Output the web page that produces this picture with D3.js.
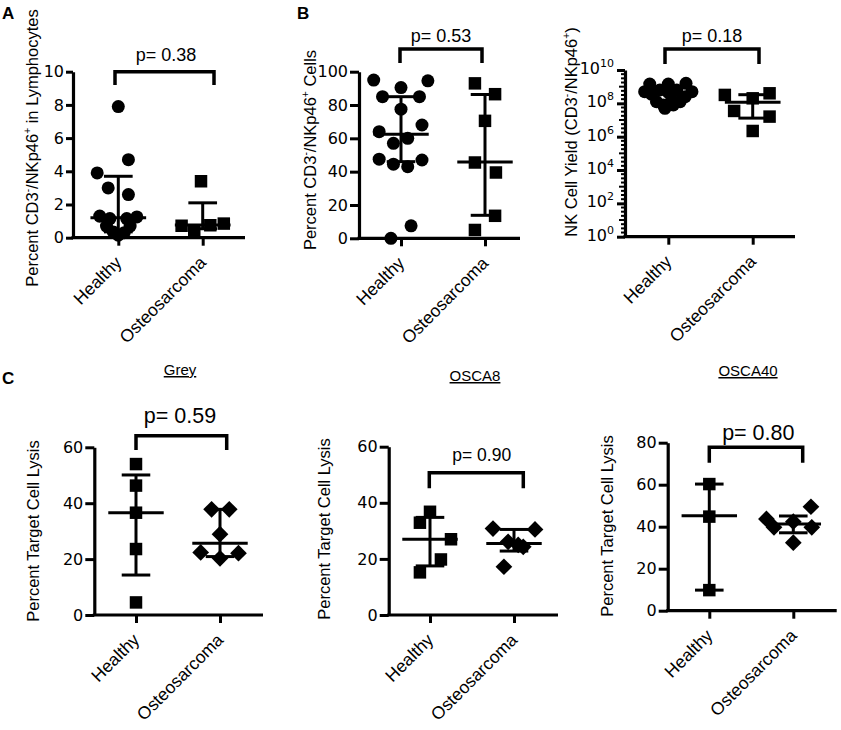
<!DOCTYPE html>
<html>
<head>
<meta charset="utf-8">
<script src="https://cdn.jsdelivr.net/npm/d3@7"></script>
<style>
  body { margin: 0; background: #fff; }
  text { font-family: "Liberation Sans", Arial, sans-serif; fill: #000; }
</style>
</head>
<body>
<svg id="fig" width="841" height="730"></svg>
<script>
// Script to draw the NK cell comparison figure (panels A, B, C)

const groups = ['Healthy', 'Osteosarcoma'];

// A - percent CD3-/NKp46+ in lymphocytes
const aHealthy = [7.9, 4.7, 3.9, 3.0, 2.6, 1.3, 1.25, 1.15, 1.15, 0.7, 0.7, 0.35, 0.3, 0.15];
const aHealthyDx = [0, 0.12, -0.25, -0.12, 0.12, -0.22, 0.22, -0.1, 0.1, -0.14, 0.14, -0.06, 0.07, 0];
const aOsteo = [3.4, 0.85, 0.75, 0.72, 0.35];
const aOsteoDx = [-0.02, 0.25, 0.09, -0.25, -0.1];
const aHealthyIqr = [0.35, 1.2, 3.7];   // q1, median, q3
const aOsteoIqr = [0.54, 0.76, 2.1];
const aTicks = [0, 2, 4, 6, 8, 10];

// B left - percent CD3-/NKp46+ cells
const bHealthy = [95, 94.5, 90.5, 85, 85, 77.5, 68, 64, 60, 57, 47.5, 47, 44.5, 43, 7.5, 0];
const bHealthyDx = [-0.325, 0.32, 0, -0.22, 0.22, 0, 0.25, -0.26, 0.08, -0.09, -0.26, 0.25, -0.09, 0.08, 0.12, -0.12];
const bOsteo = [93, 86.5, 70.5, 45.5, 39.5, 13.5, 5];
const bOsteoDx = [-0.12, 0.12, 0, -0.12, 0.13, 0.12, -0.12];
const bHealthyIqr = [46, 62.4, 85];
const bOsteoIqr = [13.8, 45.8, 86.3];
const bTicks = [0, 20, 40, 60, 80, 100];

// B right - NK cell yield (log)
const yHealthy = [1.45e9, 1.45e9, 1.58e9, 5e8, 5e8, 6.3e8, 6.3e8, 3.5e8, 2.5e8, 4.5e8, 1.26e8, 1.26e8, 1.6e8, 8e7, 8e7, 5e7];
const yHealthyDx = [-0.22, 0, 0.21, -0.28, 0.28, -0.1, 0.1, -0.2, 0.2, 0, -0.14, 0.14, 0.04, -0.06, 0.06, -0.04];
const yOsteo = [4e8, 3.2e8, 2e8, 3.5e7, 1.6e7, 2.2e6];
const yOsteoDx = [0.2, -0.33, 0, -0.22, 0.2, 0];
const yHealthyIqr = [1.3e8, 4e8, 6.3e8];
const yOsteoIqr = [1.3e7, 1.15e8, 3.3e8];
const yTicks = [1, 1e2, 1e4, 1e6, 1e8, 1e10];

// C - percent target cell lysis
const greyHealthy = [54, 46.3, 36.6, 23.6, 4.5];
const greyHealthyDx = [0, 0, 0, 0, 0];
const greyOsteo = [37.8, 37.8, 28.9, 22.4, 22.1, 20.3];
const greyOsteoDx = [-0.1, 0.11, 0, -0.23, 0.22, 0];
const greyHealthyIqr = [14.3, 36.6, 50.1];
const greyOsteoIqr = [20.9, 25.7, 37.8];

const osca8Healthy = [36.8, 32.9, 27, 19.8, 15.2];
const osca8HealthyDx = [0, -0.12, 0.25, 0.13, -0.12];
const osca8Osteo = [30.8, 30.5, 26.1, 25, 24.3, 17.2];
const osca8OsteoDx = [-0.25, 0.25, -0.07, 0.05, 0.11, -0.12];
const osca8HealthyIqr = [17.5, 27, 34.8];
const osca8OsteoIqr = [22.8, 25.5, 30.5];

const osca40Healthy = [60.3, 44.8, 9.8];
const osca40HealthyDx = [0, 0, 0];
const osca40Osteo = [49.5, 43.7, 42.4, 39.7, 39.7, 32.4];
const osca40OsteoDx = [0.21, -0.32, 0, -0.23, 0.22, 0];
const osca40HealthyIqr = [9.8, 45.2, 60.3];
const osca40OsteoIqr = [37.1, 41.3, 45.1];

const lysisTicks60 = [0, 20, 40, 60];
const lysisTicks80 = [0, 20, 40, 60, 80];

const pValues = ['p= 0.38', 'p= 0.53', 'p= 0.18', 'p= 0.59', 'p= 0.90', 'p= 0.80'];
const cellLines = ['Grey', 'OSCA8', 'OSCA40'];

// titles as [text, isSuperscript] pieces
const titleLymph = [['Percent CD3', 0], ['-', 1], ['/NKp46', 0], ['+', 1], [' in Lymphocytes', 0]];
const titleCells = [['Percent CD3', 0], ['-', 1], ['/NKp46', 0], ['+', 1], [' Cells', 0]];
const titleYield = [['NK Cell Yield (CD3', 0], ['-', 1], ['/NKp46', 0], ['+', 1], [')', 0]];
const titleLysis = [['Percent Target Cell Lysis', 0]];

const tickFont = '"DejaVu Sans", Verdana, sans-serif';
const svg = d3.select('#fig');

function richText(t, parts, size) {
    let supSize = size * 0.62, lift = size * 0.42;
    let up = false;
    parts.forEach(p => {
        let ts = t.append('tspan').text(p[0]);
        if (p[1]) {
            ts.attr('font-size', supSize).attr('dy', up ? 0 : -lift);
            up = true;
        } else {
            ts.attr('font-size', size).attr('dy', up ? lift : 0);
            up = false;
        }
    });
}

function panel(o) {
    let g = svg.append('g');

    let x = d3.scalePoint().domain(groups).range(o.cx);
    let step = o.cx[1] - o.cx[0];
    let y = (o.log ? d3.scaleLog() : d3.scaleLinear())
        .domain(o.dom)
        .range([o.yb, o.yt]);

    // y axis
    let yAxis = d3.axisLeft(y)
        .tickValues(o.ticks)
        .tickSizeOuter(0)
        .tickSizeInner(o.tickLen)
        .tickPadding(2);
    if (o.log) yAxis.tickFormat('');

    let ya = g.append('g')
        .attr('transform', `translate(${o.ax},0)`)
        .call(yAxis);
    ya.select('.domain').attr('stroke-width', 3.2).attr('stroke', '#000');
    ya.selectAll('.tick line').attr('stroke-width', 3).attr('stroke', '#000');
    ya.selectAll('.tick text')
        .style('font-size', '16px')
        .style('font-family', tickFont);

    if (o.log) {
        // minor ticks every quarter decade
        let minor = d3.range(0, 41).map(k => Math.pow(10, k / 4))
            .filter(v => !o.ticks.includes(v));
        g.append('g').selectAll('line')
            .data(minor)
            .join('line')
            .attr('x1', o.ax)
            .attr('x2', d => o.ax - (Math.abs(Math.log10(d) % 2 - 1) < 1e-9 ? 6 : 4))
            .attr('y1', d => y(d))
            .attr('y2', d => y(d))
            .attr('stroke', '#000')
            .attr('stroke-width', 2);

        ya.selectAll('.tick').each(function(d) {
            let t = d3.select(this).append('text')
                .attr('x', -o.tickLen - 3)
                .attr('dy', '0.36em')
                .attr('text-anchor', 'end')
                .style('font-family', tickFont);
            t.append('tspan').attr('font-size', 16).text('10');
            t.append('tspan').attr('font-size', 11).attr('dy', -7)
                .text(Math.round(Math.log10(d)));
        });
    }

    // x axis
    g.append('line')
        .attr('x1', o.ax - 1.5).attr('x2', o.xe)
        .attr('y1', o.yb).attr('y2', o.yb)
        .attr('stroke', '#000').attr('stroke-width', 3.2);

    let xa = g.append('g')
        .attr('transform', `translate(0,${o.yb})`)
        .call(d3.axisBottom(x).tickSizeOuter(0).tickSizeInner(8));
    xa.select('.domain').remove();
    xa.selectAll('.tick line').attr('stroke-width', 3).attr('stroke', '#000');
    xa.selectAll('.tick text')
        .attr('x', 0).attr('y', 0).attr('dy', 0)
        .attr('font-size', 17.5)
        .attr('text-anchor', 'end')
        .attr('transform', 'translate(4,26) rotate(-45)');

    // points
    let sets = [
        {grp: groups[0], vals: o.h, dx: o.hdx, shape: o.hShape},
        {grp: groups[1], vals: o.s, dx: o.sdx, shape: o.sShape}
    ];
    sets.forEach(s => {
        let sym = s.shape == 'circle' ? d3.symbol(d3.symbolCircle, 133)
                : d3.symbol(d3.symbolSquare, s.shape == 'diamond' ? 140 : 156);
        g.append('g').selectAll('path')
            .data(s.vals)
            .join('path')
            .attr('d', sym)
            .attr('transform', (d, i) => `translate(${x(s.grp) + s.dx[i] * step},${y(d)})` +
                (s.shape == 'diamond' ? ' rotate(45)' : ''))
            .attr('fill', '#000');
    });

    // median + interquartile range
    [[groups[0], o.hq], [groups[1], o.sq]].forEach(([grp, q]) => {
        let cx = x(grp);
        let eb = g.append('g').attr('stroke', '#000').attr('stroke-width', 3);
        eb.append('line').attr('x1', cx).attr('x2', cx).attr('y1', y(q[0])).attr('y2', y(q[2]));
        eb.append('line').attr('x1', cx - 0.33 * step).attr('x2', cx + 0.33 * step)
            .attr('y1', y(q[1])).attr('y2', y(q[1]));
        [q[0], q[2]].forEach(v => {
            eb.append('line').attr('x1', cx - 0.17 * step).attr('x2', cx + 0.17 * step)
                .attr('y1', y(v)).attr('y2', y(v));
        });
    });

    // significance bracket
    let b = o.br;
    g.append('path')
        .attr('d', `M${b[0]},${b[3]}V${b[2]}H${b[1]}V${b[3]}`)
        .attr('fill', 'none')
        .attr('stroke', '#000')
        .attr('stroke-width', 3.5);
    g.append('text')
        .attr('x', o.p[0]).attr('y', o.p[1])
        .attr('text-anchor', 'middle')
        .attr('font-size', o.p[2])
        .text(o.pText);

    // y title
    let t = g.append('text')
        .attr('transform', `translate(${o.yt_[0]},${o.yt_[1]}) rotate(-90)`)
        .attr('text-anchor', 'middle')
        .attr('dy', '0.35em');
    richText(t, o.title, 16.5);

    return g;
}

// panel A
panel({cx: [118.3, 202.7], ax: 73, xe: 245, yt: 71.7, yb: 237.7, dom: [0, 10], ticks: aTicks, tickLen: 7,
    h: aHealthy, hdx: aHealthyDx, s: aOsteo, sdx: aOsteoDx, hq: aHealthyIqr, sq: aOsteoIqr,
    hShape: 'circle', sShape: 'square',
    br: [115, 214, 71.7, 85], p: [166, 61, 18], pText: pValues[0],
    yt_: [38, 148], title: titleLymph});

// panel B left
panel({cx: [401, 485], ax: 359, xe: 520, yt: 71.7, yb: 238.3, dom: [0, 100], ticks: bTicks, tickLen: 9,
    h: bHealthy, hdx: bHealthyDx, s: bOsteo, sdx: bOsteoDx, hq: bHealthyIqr, sq: bOsteoIqr,
    hShape: 'circle', sShape: 'square',
    br: [400, 482, 49, 63], p: [441, 41.5, 18], pText: pValues[1],
    yt_: [316, 150], title: titleCells});

// panel B right
panel({cx: [668.3, 752.7], ax: 625, xe: 795, yt: 70, yb: 236.7, dom: [1, 1e10], log: true, ticks: yTicks, tickLen: 8,
    h: yHealthy, hdx: yHealthyDx, s: yOsteo, sdx: yOsteoDx, hq: yHealthyIqr, sq: yOsteoIqr,
    hShape: 'circle', sShape: 'square',
    br: [665, 759, 49, 64], p: [712, 41.7, 18], pText: pValues[2],
    yt_: [577, 132], title: titleYield});

// panel C
panel({cx: [136, 220], ax: 94.3, xe: 263, yt: 447.3, yb: 615, dom: [0, 60], ticks: lysisTicks60, tickLen: 9,
    h: greyHealthy, hdx: greyHealthyDx, s: greyOsteo, sdx: greyOsteoDx, hq: greyHealthyIqr, sq: greyOsteoIqr,
    hShape: 'square', sShape: 'diamond',
    br: [136, 226.7, 435.7, 450], p: [180, 423.3, 21.5], pText: pValues[3],
    yt_: [38.5, 531], title: titleLysis});

panel({cx: [430, 514], ax: 388.7, xe: 558, yt: 446.7, yb: 615, dom: [0, 60], ticks: lysisTicks60, tickLen: 9,
    h: osca8Healthy, hdx: osca8HealthyDx, s: osca8Osteo, sdx: osca8OsteoDx, hq: osca8HealthyIqr, sq: osca8OsteoIqr,
    hShape: 'square', sShape: 'diamond',
    br: [429.3, 523.3, 472.7, 488.3], p: [481.7, 460.7, 17.5], pText: pValues[4],
    yt_: [330, 529], title: titleLysis});

panel({cx: [709.3, 793.3], ax: 667.7, xe: 836.7, yt: 442.7, yb: 610.7, dom: [0, 80], ticks: lysisTicks80, tickLen: 9,
    h: osca40Healthy, hdx: osca40HealthyDx, s: osca40Osteo, sdx: osca40OsteoDx, hq: osca40HealthyIqr, sq: osca40OsteoIqr,
    hShape: 'square', sShape: 'diamond',
    br: [709.3, 802.7, 447.3, 462.7], p: [758.3, 440, 21.5], pText: pValues[5],
    yt_: [612.5, 526], title: titleLysis});

// cell line titles (underlined)
[[180, 375], [475, 381], [748, 376]].forEach((pos, i) => {
    svg.append('text')
        .attr('x', pos[0]).attr('y', pos[1])
        .attr('text-anchor', 'middle')
        .attr('font-size', 15)
        .attr('text-decoration', 'underline')
        .text(cellLines[i]);
});

// panel letters
[['A', 2, 19], ['B', 297, 19], ['C', 2, 384]].forEach(l => {
    svg.append('text')
        .attr('x', l[1]).attr('y', l[2])
        .attr('font-size', 17)
        .attr('font-weight', 'bold')
        .text(l[0]);
});
</script>
</body>
</html>
